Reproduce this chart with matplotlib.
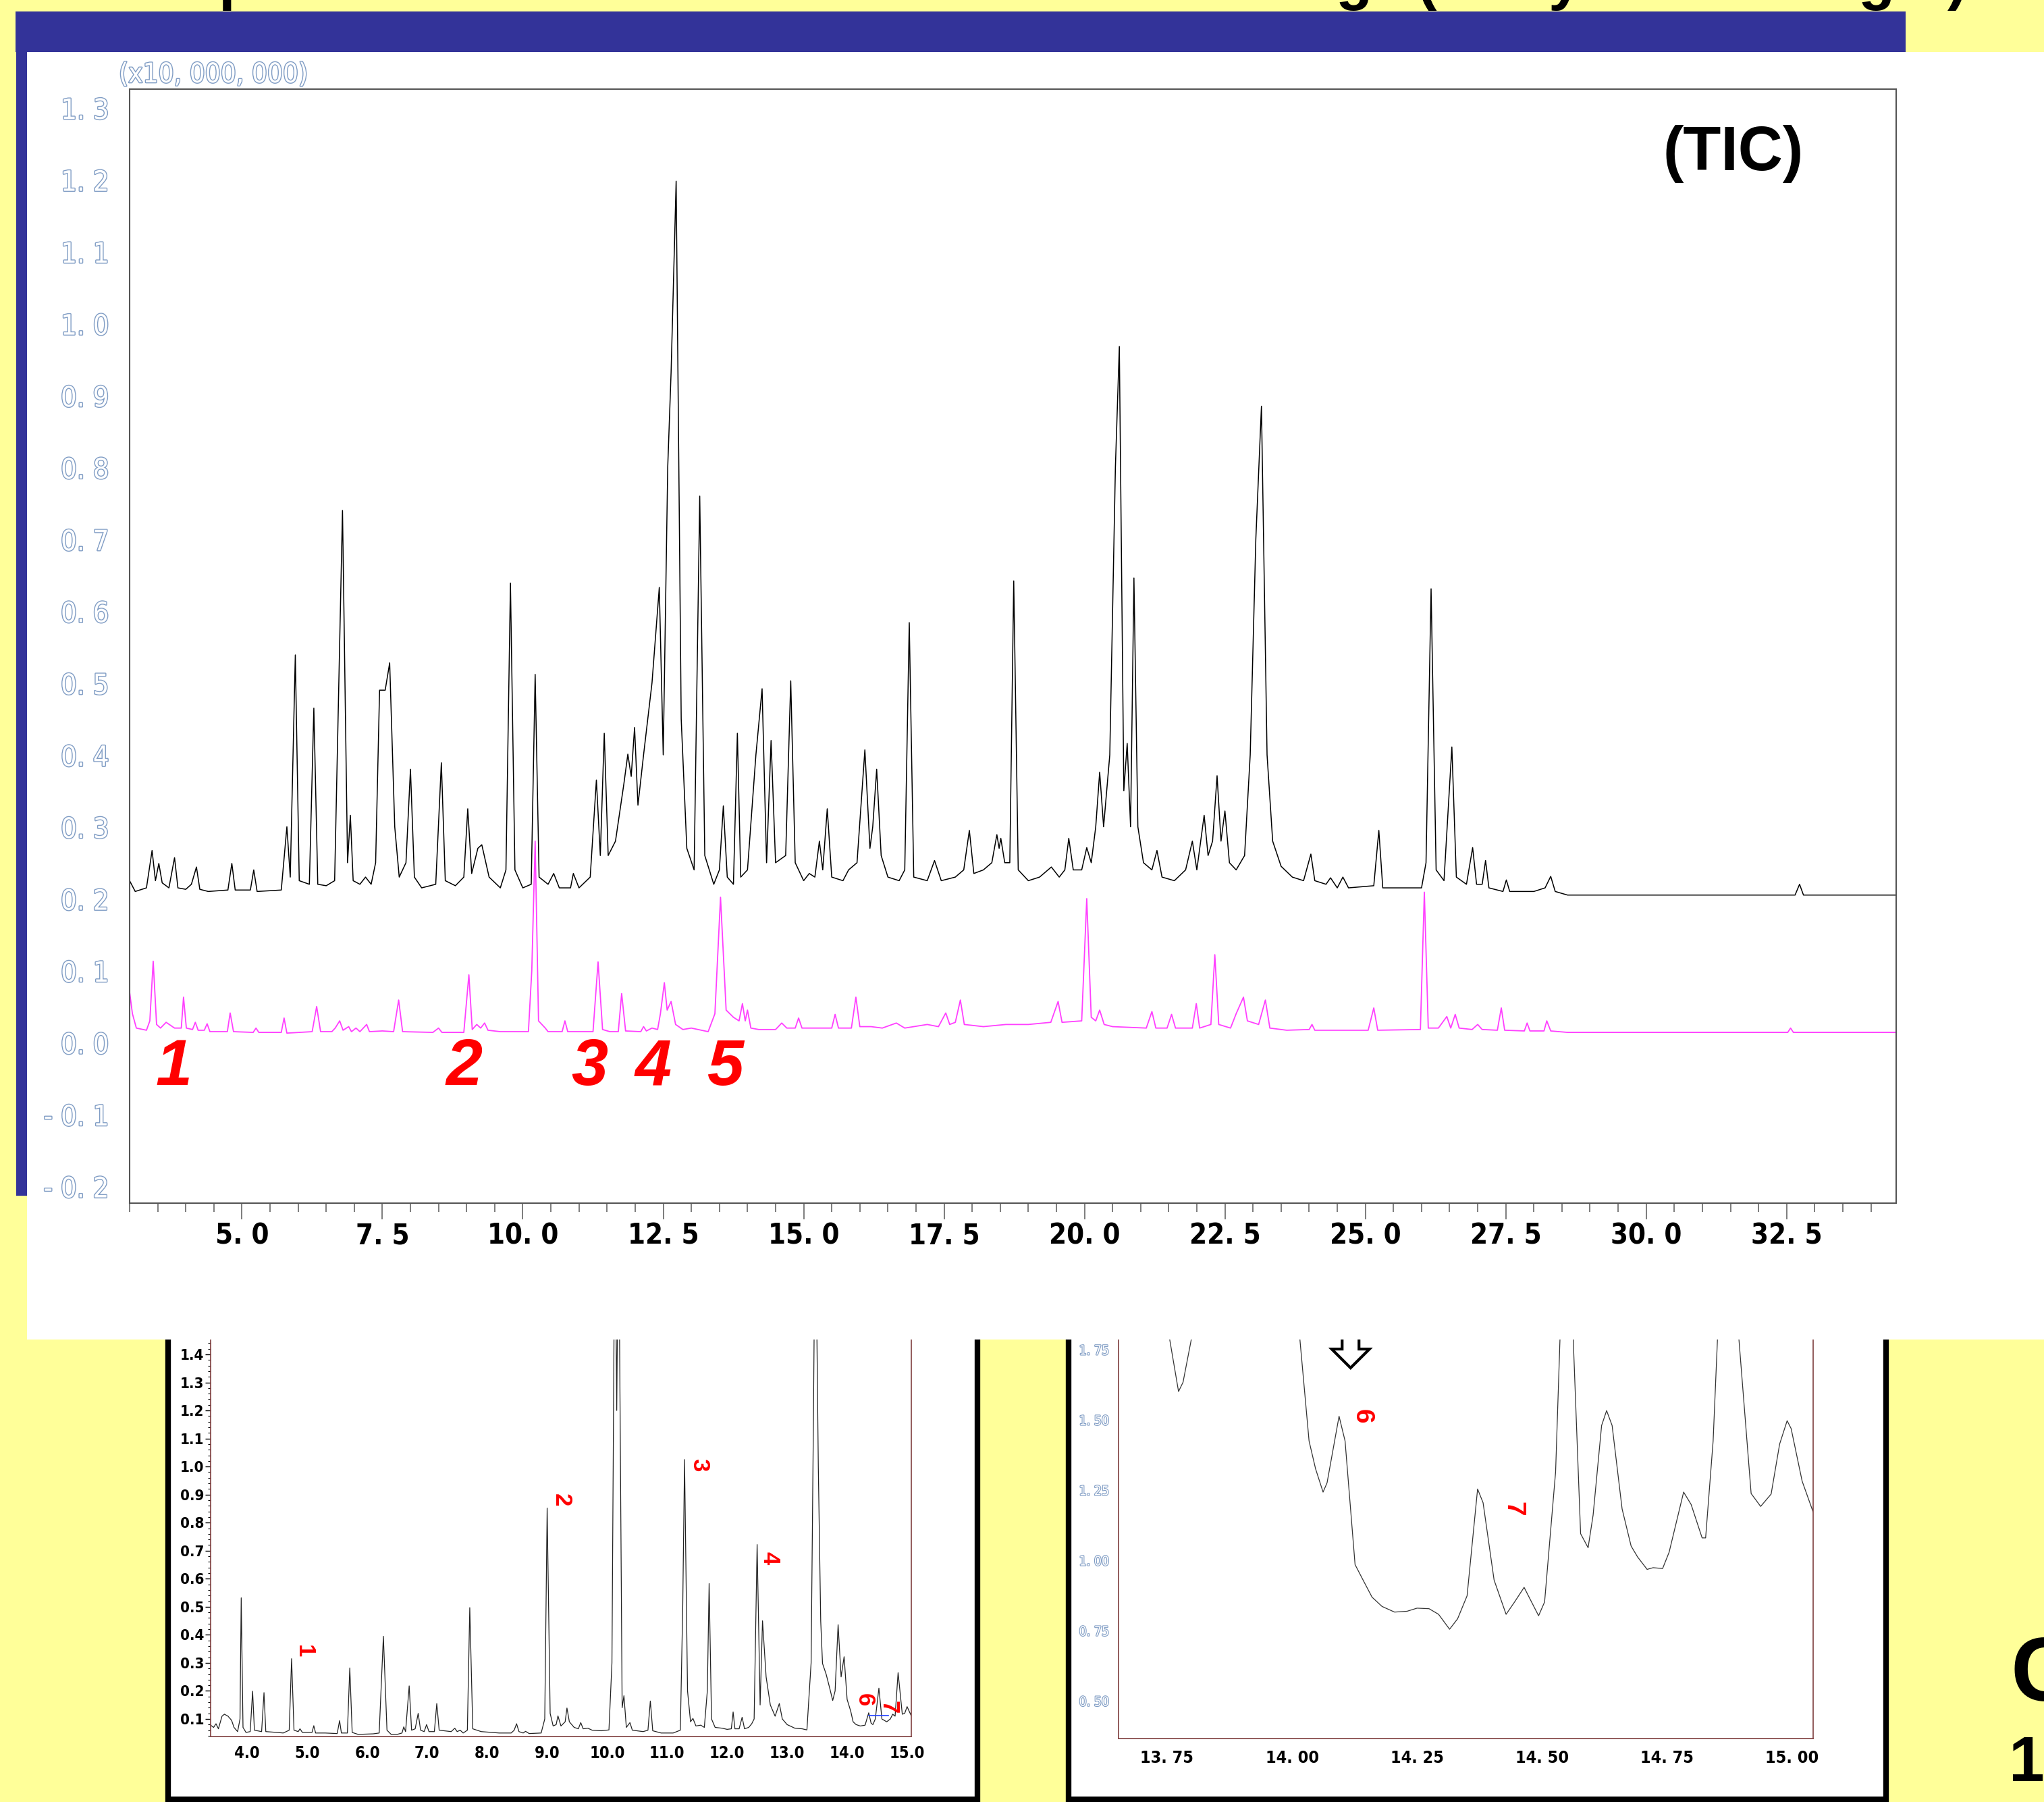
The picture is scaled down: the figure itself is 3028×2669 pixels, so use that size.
import matplotlib
matplotlib.use('Agg')
import matplotlib.pyplot as plt
import matplotlib.patheffects as pe
from matplotlib import font_manager as fm
from matplotlib.patches import Rectangle, FancyArrow
from matplotlib.ticker import FixedLocator

# ---- main chromatogram (TIC, black) ----
tic_x = [3.0, 3.1, 3.3, 3.4, 3.46, 3.52, 3.58, 3.7, 3.8, 3.86, 4.0, 4.1, 4.19, 4.25, 4.4, 4.75, 4.82, 4.88,
         5.15, 5.21, 5.27, 5.7, 5.8, 5.86, 5.95, 6.02, 6.2, 6.28, 6.35, 6.5, 6.65, 6.79, 6.88, 6.93, 6.98,
         7.1, 7.2, 7.3, 7.38, 7.45, 7.55, 7.63, 7.72, 7.8, 7.92, 8.0, 8.07, 8.2, 8.45, 8.55, 8.62, 8.8, 8.95,
         9.02, 9.09, 9.2, 9.27, 9.4, 9.6, 9.7, 9.78, 9.86, 10.0, 10.15, 10.22, 10.29, 10.45, 10.55, 10.65,
         10.85, 10.9, 11.0, 11.2, 11.31, 11.38, 11.45, 11.52, 11.65, 11.8, 11.87, 11.93, 11.99, 12.05, 12.15,
         12.3, 12.43, 12.5, 12.58, 12.64, 12.73, 12.82, 12.92, 13.05, 13.15, 13.24, 13.4, 13.5, 13.57, 13.64,
         13.75, 13.82, 13.88, 14.0, 14.15, 14.26, 14.34, 14.42, 14.5, 14.68, 14.77, 14.85, 15.0, 15.1, 15.2,
         15.28, 15.34, 15.42, 15.5, 15.7, 15.8, 15.95, 16.09, 16.18, 16.23, 16.3, 16.38, 16.5, 16.7, 16.8,
         16.88, 16.96, 17.2, 17.33, 17.45, 17.7, 17.85, 17.95, 18.03, 18.2, 18.35, 18.44, 18.48, 18.51, 18.58,
         18.67, 18.74, 18.82, 19.0, 19.2, 19.41, 19.55, 19.65, 19.72, 19.8, 19.95, 20.04, 20.12, 20.2, 20.27,
         20.34, 20.45, 20.55, 20.62, 20.7, 20.76, 20.82, 20.88, 20.95, 21.05, 21.2, 21.29, 21.38, 21.6, 21.8,
         21.92, 22.0, 22.13, 22.2, 22.28, 22.36, 22.43, 22.5, 22.58, 22.7, 22.85, 22.95, 23.05, 23.15, 23.25,
         23.35, 23.5, 23.7, 23.9, 24.03, 24.1, 24.3, 24.38, 24.5, 24.6, 24.7, 25.15, 25.24, 25.31, 25.6, 26.0,
         26.08, 26.17, 26.26, 26.4, 26.54, 26.62, 26.8, 26.91, 26.98, 27.08, 27.14, 27.2, 27.45, 27.51, 27.57,
         28.0, 28.2, 28.3, 28.38, 28.6, 32.65, 32.73, 32.8, 34.5]
tic_y = [0.225, 0.21, 0.215, 0.267, 0.225, 0.249, 0.222, 0.215, 0.257, 0.215, 0.213, 0.22, 0.244, 0.213, 0.21,
         0.212, 0.249, 0.212, 0.212, 0.24, 0.21, 0.212, 0.30, 0.23, 0.539, 0.225, 0.22, 0.465, 0.22, 0.218, 0.225,
         0.74, 0.25, 0.316, 0.225, 0.22, 0.23, 0.22, 0.25, 0.49, 0.49, 0.528, 0.30, 0.23, 0.25, 0.38, 0.23, 0.215,
         0.22, 0.389, 0.225, 0.218, 0.23, 0.325, 0.235, 0.27, 0.275, 0.23, 0.215, 0.24, 0.639, 0.24, 0.215, 0.22,
         0.512, 0.23, 0.22, 0.235, 0.215, 0.215, 0.235, 0.215, 0.23, 0.365, 0.26, 0.43, 0.26, 0.28, 0.36, 0.401,
         0.37, 0.438, 0.33, 0.40, 0.50, 0.633, 0.40, 0.80, 0.932, 1.198, 0.45, 0.27, 0.24, 0.76, 0.26, 0.22, 0.24,
         0.329, 0.23, 0.22, 0.43, 0.23, 0.24, 0.40, 0.492, 0.25, 0.42, 0.25, 0.26, 0.503, 0.25, 0.225, 0.235, 0.23,
         0.28, 0.24, 0.325, 0.23, 0.225, 0.24, 0.25, 0.407, 0.27, 0.30, 0.38, 0.26, 0.23, 0.225, 0.24, 0.584, 0.23,
         0.225, 0.253, 0.225, 0.23, 0.24, 0.295, 0.235, 0.24, 0.25, 0.289, 0.27, 0.284, 0.25, 0.25, 0.642, 0.24,
         0.225, 0.23, 0.244, 0.23, 0.24, 0.284, 0.24, 0.24, 0.271, 0.25, 0.30, 0.376, 0.30, 0.40, 0.80, 0.968, 0.35,
         0.416, 0.30, 0.646, 0.30, 0.25, 0.24, 0.267, 0.23, 0.225, 0.24, 0.28, 0.24, 0.316, 0.26, 0.28, 0.371, 0.28,
         0.322, 0.25, 0.24, 0.26, 0.40, 0.70, 0.885, 0.40, 0.28, 0.245, 0.23, 0.225, 0.262, 0.225, 0.22, 0.229,
         0.215, 0.23, 0.215, 0.218, 0.295, 0.215, 0.215, 0.215, 0.25, 0.631, 0.24, 0.225, 0.411, 0.23, 0.22, 0.271,
         0.22, 0.22, 0.253, 0.215, 0.21, 0.226, 0.21, 0.21, 0.215, 0.231, 0.21, 0.205, 0.205, 0.22, 0.205, 0.205]

# ---- second trace (magenta) ----
mag_x = [3.0, 3.05, 3.12, 3.3, 3.36, 3.42, 3.48, 3.55, 3.65, 3.8, 3.92, 3.96, 4.01, 4.12, 4.17, 4.22, 4.33, 4.38,
         4.43, 4.74, 4.79, 4.85, 5.2, 5.25, 5.3, 5.7, 5.75, 5.8, 6.25, 6.33, 6.4, 6.6, 6.66, 6.74, 6.8, 6.9, 6.95,
         7.03, 7.1, 7.22, 7.27, 7.5, 7.7, 7.79, 7.86, 8.4, 8.5, 8.56, 8.95, 9.04, 9.1, 9.18, 9.25, 9.32, 9.38,
         9.6, 10.1, 10.16, 10.22, 10.28, 10.4, 10.45, 10.7, 10.75, 10.8, 11.25, 11.34, 11.42, 11.55, 11.7, 11.76,
         11.83, 12.1, 12.15, 12.2, 12.3, 12.4, 12.45, 12.52, 12.57, 12.64, 12.72, 12.85, 13.0, 13.3, 13.42, 13.52,
         13.62, 13.75, 13.85, 13.91, 13.96, 14.0, 14.06, 14.2, 14.5, 14.61, 14.7, 14.85, 14.91, 14.97, 15.3, 15.5,
         15.56, 15.62, 15.85, 15.93, 16.0, 16.2, 16.4, 16.65, 16.8, 17.2, 17.4, 17.53, 17.6, 17.7, 17.79, 17.86,
         18.2, 18.6, 19.0, 19.4, 19.53, 19.6, 19.95, 20.04, 20.12, 20.2, 20.27, 20.35, 20.5, 21.1, 21.2, 21.27,
         21.47, 21.55, 21.62, 21.92, 21.99, 22.05, 22.25, 22.32, 22.39, 22.6, 22.7, 22.83, 22.9, 23.1, 23.22, 23.3,
         23.6, 24.0, 24.05, 24.1, 25.05, 25.15, 25.22, 25.98, 26.05, 26.12, 26.3, 26.45, 26.52, 26.6, 26.67, 26.9,
         27.0, 27.08, 27.35, 27.42, 27.48, 27.83, 27.88, 27.93, 28.18, 28.23, 28.3, 28.6, 32.52, 32.57, 32.62, 34.5]
mag_y = [0.07, 0.04, 0.02, 0.017, 0.03, 0.113, 0.025, 0.02, 0.028, 0.02, 0.02, 0.063, 0.02, 0.018, 0.028, 0.017,
         0.017, 0.026, 0.015, 0.015, 0.041, 0.015, 0.014, 0.02, 0.014, 0.014, 0.034, 0.013, 0.015, 0.05, 0.015,
         0.015, 0.02, 0.03, 0.017, 0.022, 0.015, 0.02, 0.015, 0.025, 0.015, 0.016, 0.015, 0.059, 0.015, 0.014,
         0.02, 0.014, 0.014, 0.094, 0.018, 0.025, 0.02, 0.027, 0.017, 0.015, 0.015, 0.1, 0.28, 0.03, 0.02, 0.015,
         0.015, 0.03, 0.015, 0.015, 0.112, 0.018, 0.015, 0.015, 0.068, 0.016, 0.015, 0.022, 0.016, 0.02, 0.018,
         0.04, 0.083, 0.045, 0.057, 0.025, 0.018, 0.02, 0.015, 0.04, 0.202, 0.045, 0.035, 0.03, 0.054, 0.03, 0.045,
         0.02, 0.018, 0.018, 0.027, 0.02, 0.02, 0.034, 0.02, 0.02, 0.02, 0.039, 0.02, 0.02, 0.063, 0.022, 0.022,
         0.02, 0.027, 0.02, 0.025, 0.022, 0.041, 0.025, 0.028, 0.059, 0.025, 0.022, 0.025, 0.025, 0.028, 0.057,
         0.028, 0.03, 0.2, 0.035, 0.03, 0.045, 0.025, 0.022, 0.02, 0.043, 0.02, 0.02, 0.039, 0.02, 0.02, 0.054,
         0.02, 0.025, 0.122, 0.025, 0.02, 0.04, 0.063, 0.03, 0.025, 0.059, 0.02, 0.017, 0.018, 0.025, 0.017, 0.017,
         0.048, 0.017, 0.018, 0.209, 0.02, 0.02, 0.036, 0.02, 0.039, 0.02, 0.018, 0.025, 0.018, 0.017, 0.048,
         0.017, 0.016, 0.027, 0.016, 0.016, 0.03, 0.016, 0.014, 0.014, 0.02, 0.014, 0.014]

main_yticks = [1.3, 1.2, 1.1, 1.0, 0.9, 0.8, 0.7, 0.6, 0.5, 0.4, 0.3, 0.2, 0.1, 0.0, -0.1, -0.2]
main_ylabels = ['1. 3', '1. 2', '1. 1', '1. 0', '0. 9', '0. 8', '0. 7', '0. 6', '0. 5', '0. 4', '0. 3',
                '0. 2', '0. 1', '0. 0', '- 0. 1', '- 0. 2']
main_xticks = [5.0, 7.5, 10.0, 12.5, 15.0, 17.5, 20.0, 22.5, 25.0, 27.5, 30.0, 32.5]
main_xlabels = ['5. 0', '7. 5', '10. 0', '12. 5', '15. 0', '17. 5', '20. 0', '22. 5', '25. 0', '27. 5',
                '30. 0', '32. 5']
main_peak_names = ['1', '2', '3', '4', '5']
main_peak_x = [3.79, 8.96, 11.19, 12.32, 13.60]

# ---- lower-left inset trace ----
in1_x = [3.39, 3.44, 3.48, 3.52, 3.58, 3.62, 3.68, 3.74, 3.78, 3.84, 3.88, 3.90, 3.93, 3.98, 4.05, 4.09, 4.12,
         4.24, 4.28, 4.31, 4.5, 4.6, 4.70, 4.74, 4.78, 4.85, 4.88, 4.92, 5.08, 5.11, 5.14, 5.3, 5.5, 5.54, 5.57,
         5.67, 5.71, 5.75, 5.85, 6.1, 6.2, 6.27, 6.33, 6.4, 6.5, 6.58, 6.61, 6.64, 6.70, 6.74, 6.8, 6.85, 6.89,
         6.95, 6.99, 7.03, 7.12, 7.16, 7.2, 7.4, 7.46, 7.5, 7.55, 7.6, 7.67, 7.71, 7.76, 7.9, 8.2, 8.4, 8.45,
         8.49, 8.53, 8.6, 8.64, 8.7, 8.9, 8.96, 9.0, 9.05, 9.1, 9.15, 9.18, 9.23, 9.3, 9.33, 9.37, 9.45, 9.52,
         9.56, 9.6, 9.68, 9.75, 9.9, 10.03, 10.08, 10.13, 10.16, 10.19, 10.25, 10.28, 10.32, 10.38, 10.42, 10.6,
         10.68, 10.72, 10.76, 10.9, 11.1, 11.22, 11.26, 11.29, 11.34, 11.39, 11.43, 11.48, 11.56, 11.62, 11.67,
         11.70, 11.74, 11.8, 11.92, 12.0, 12.07, 12.10, 12.13, 12.2, 12.25, 12.29, 12.36, 12.41, 12.45, 12.50,
         12.55, 12.59, 12.65, 12.72, 12.8, 12.87, 12.92, 13.0, 13.13, 13.25, 13.33, 13.4, 13.44, 13.47, 13.52,
         13.56, 13.59, 13.65, 13.71, 13.76, 13.8, 13.85, 13.9, 13.95, 14.0, 14.06, 14.1, 14.15, 14.22, 14.3,
         14.36, 14.4, 14.43, 14.47, 14.53, 14.58, 14.66, 14.72, 14.76, 14.8, 14.85, 14.92, 14.96, 15.0, 15.07]
in1_y = [0.078, 0.07, 0.083, 0.065, 0.11, 0.117, 0.11, 0.095, 0.07, 0.055, 0.1, 0.532, 0.07, 0.052, 0.055, 0.199,
         0.06, 0.055, 0.194, 0.055, 0.052, 0.05, 0.06, 0.315, 0.06, 0.055, 0.065, 0.052, 0.052, 0.076, 0.05, 0.05,
         0.048, 0.094, 0.05, 0.05, 0.282, 0.052, 0.045, 0.047, 0.05, 0.395, 0.06, 0.045, 0.045, 0.05, 0.072, 0.055,
         0.218, 0.06, 0.065, 0.12, 0.06, 0.055, 0.08, 0.055, 0.055, 0.155, 0.06, 0.055, 0.067, 0.055, 0.06, 0.05,
         0.06, 0.497, 0.065, 0.055, 0.05, 0.05, 0.06, 0.083, 0.055, 0.05, 0.056, 0.048, 0.05, 0.1, 0.852, 0.12,
         0.075, 0.08, 0.111, 0.075, 0.09, 0.139, 0.09, 0.07, 0.065, 0.087, 0.065, 0.067, 0.06, 0.058, 0.061, 0.3,
         2.0, 1.2, 2.0, 0.14, 0.183, 0.07, 0.087, 0.06, 0.055, 0.06, 0.164, 0.058, 0.05, 0.05, 0.06, 0.5, 1.025,
         0.2, 0.09, 0.102, 0.075, 0.078, 0.07, 0.2, 0.583, 0.1, 0.07, 0.067, 0.063, 0.065, 0.125, 0.065, 0.065,
         0.106, 0.065, 0.07, 0.083, 0.1, 0.722, 0.15, 0.45, 0.25, 0.15, 0.11, 0.155, 0.1, 0.08, 0.067, 0.065,
         0.061, 0.3, 1.2, 2.0, 1.0, 0.45, 0.298, 0.26, 0.21, 0.166, 0.2, 0.436, 0.25, 0.322, 0.17, 0.128, 0.09,
         0.08, 0.075, 0.078, 0.122, 0.085, 0.08, 0.1, 0.21, 0.10, 0.09, 0.1, 0.117, 0.11, 0.265, 0.117, 0.12,
         0.144, 0.111]
in1_yticks = [0.1, 0.2, 0.3, 0.4, 0.5, 0.6, 0.7, 0.8, 0.9, 1.0, 1.1, 1.2, 1.3, 1.4]
in1_ylabels = ['0.1', '0.2', '0.3', '0.4', '0.5', '0.6', '0.7', '0.8', '0.9', '1.0', '1.1', '1.2', '1.3', '1.4']
in1_xticks = [4.0, 5.0, 6.0, 7.0, 8.0, 9.0, 10.0, 11.0, 12.0, 13.0, 14.0, 15.0]
in1_xlabels = ['4.0', '5.0', '6.0', '7.0', '8.0', '9.0', '10.0', '11.0', '12.0', '13.0', '14.0', '15.0']
in1_marks = ['1', '2', '3', '4', '6', '7']
in1_mark_x = [4.95, 9.23, 11.53, 12.71, 14.29, 14.69]
in1_mark_y = [0.342, 0.882, 1.005, 0.675, 0.169, 0.142]

# ---- lower-right inset trace (zoom 13.7-15.0 min) ----
in2_x = [13.653, 13.70, 13.754, 13.773, 13.782, 13.80, 13.83, 13.95, 14.015, 14.034, 14.047, 14.062, 14.07,
         14.094, 14.106, 14.126, 14.142, 14.16, 14.18, 14.205, 14.23, 14.25, 14.274, 14.293, 14.315, 14.331,
         14.35, 14.371, 14.382, 14.404, 14.428, 14.445, 14.464, 14.474, 14.493, 14.505, 14.527, 14.536, 14.55,
         14.562, 14.577, 14.592, 14.602, 14.619, 14.629, 14.64, 14.66, 14.678, 14.691, 14.71, 14.722, 14.741,
         14.754, 14.783, 14.798, 14.82, 14.827, 14.842, 14.851, 14.87, 14.893, 14.918, 14.937, 14.958, 14.975,
         14.99, 14.998, 15.02, 15.042]
in2_y = [2.3, 2.3, 1.80, 1.601, 1.634, 1.80, 2.3, 2.5, 1.80, 1.425, 1.326, 1.243, 1.276, 1.513, 1.425, 0.985,
         0.93, 0.869, 0.836, 0.816, 0.819, 0.83, 0.828, 0.808, 0.755, 0.792, 0.874, 1.254, 1.205, 0.93, 0.808,
         0.852, 0.904, 0.869, 0.803, 0.852, 1.315, 1.80, 2.3, 1.80, 1.095, 1.045, 1.161, 1.48, 1.533, 1.48, 1.183,
         1.051, 1.012, 0.968, 0.974, 0.971, 1.029, 1.243, 1.199, 1.08, 1.08, 1.425, 1.80, 2.3, 1.80, 1.238, 1.192,
         1.236, 1.414, 1.497, 1.469, 1.282, 1.172]
in2_yticks = [0.50, 0.75, 1.00, 1.25, 1.50, 1.75]
in2_ylabels = ['0. 50', '0. 75', '1. 00', '1. 25', '1. 50', '1. 75']
in2_xticks = [13.75, 14.00, 14.25, 14.50, 14.75, 15.00]
in2_xlabels = ['13. 75', '14. 00', '14. 25', '14. 50', '14. 75', '15. 00']
in2_marks = ['6', '7']
in2_mark_x = [14.116, 14.417]
in2_mark_y = [1.513, 1.183]

W, H = 3028, 2669
YELLOW = '#FFFF99'
NAVY = '#333399'


# find a narrow / condensed face for the instrument-style tick labels
def narrow_font(bold):
    want = 700 if bold else 400
    best = None
    for f in fm.fontManager.ttflist:
        nm = f.name.lower()
        narrow = ('narrow' in nm or 'condensed' in nm or str(f.stretch) in
                  ('condensed', 'semi-condensed', 'extra-condensed', 'ultra-condensed'))
        if not narrow or 'mono' in nm or f.style != 'normal':
            continue
        w = f.weight if isinstance(f.weight, int) else (700 if 'bold' in str(f.weight) else 400)
        score = abs(w - want) + (0 if 'sans' in nm else 50)
        if best is None or score < best[0]:
            best = (score, f.fname)
    return best[1] if best else None


def fprop(size, bold=False):
    path = narrow_font(bold)
    if path:
        return fm.FontProperties(fname=path, size=size)
    return fm.FontProperties(family='Liberation Sans', size=size * 0.82,
                             weight='bold' if bold else 'normal')


hollow = [pe.withStroke(linewidth=2.0, foreground='#7f9cc4')]

fig = plt.figure(figsize=(W / 100, H / 100), dpi=100, facecolor=YELLOW)


def fbox(l, t, r, b):
    return [l / W, 1 - b / H, (r - l) / W, (b - t) / H]


def frect(l, t, r, b, **kw):
    fig.add_artist(Rectangle((l / W, 1 - b / H), (r - l) / W, (b - t) / H,
                             transform=fig.transFigure, **kw))


# slide background pieces
frect(23, 17, 2823, 77, color=NAVY, lw=0, zorder=2.5)
frect(24, 77, 40, 1771, color=NAVY, lw=0, zorder=2.5)
frect(40, 77, 3028, 1984, color='white', lw=0, zorder=2)
frect(249, 1960, 1448, 2665, facecolor='white', edgecolor='black', lw=6, zorder=0.5)
frect(1583, 1960, 2794, 2665, facecolor='white', edgecolor='black', lw=6, zorder=0.5)

# slide title cut off by the top edge (only descenders show) and text cut at the right edge
for ch, px in [('p', 350), ('g', 2006), ('(', 2113), ('y', 2318), ('g', 2779), (')', 2900)]:
    fig.text(px / W, 1 + 3 / H, ch, ha='center', va='baseline', fontsize=64,
             fontweight='bold', family='Liberation Sans', color='black')
fig.text(2978 / W, 1 - 2519 / H, 'C', fontsize=96, fontweight='bold', family='Liberation Sans',
         va='baseline', ha='left')
fig.text(2976 / W, 1 - 2638 / H, '1', fontsize=68, fontweight='bold', family='Liberation Sans',
         va='baseline', ha='left')

# ---------------- main chart ----------------
ax = fig.add_axes(fbox(192, 132, 2809, 1782), zorder=3)
ax.plot(tic_x, tic_y, color='black', lw=1.1)
ax.plot(mag_x, mag_y, color='#FF40FF', lw=1.3)
ax.set_xlim(3.0, 34.45)
ax.set_ylim(-0.2235, 1.326)
for s in ax.spines.values():
    s.set_color('#555555')
    s.set_linewidth(1.5)
ax.set_yticks(main_yticks)
ax.set_yticklabels(main_ylabels, fontproperties=fprop(30), color='white')
for lbl in ax.get_yticklabels():
    lbl.set_path_effects(hollow)
ax.tick_params(axis='y', length=0, pad=22)
ax.set_xticks(main_xticks)
ax.set_xticklabels(main_xlabels, fontproperties=fprop(30, bold=True))
ax.xaxis.set_minor_locator(FixedLocator([3.0 + 0.5 * i for i in range(63)]))
ax.tick_params(axis='x', which='major', length=17, width=1.2, color='#666666', pad=3)
ax.tick_params(axis='x', which='minor', length=9, width=1.2, color='#666666')
ax.text(2568 / W, 1 - 228 / H, '(TIC)', transform=fig.transFigure, fontsize=66, fontweight='bold',
        family='Liberation Sans', ha='center', va='center')
fig.text(176 / W, 1 - 131 / H, '(x10, 000, 000)', fontproperties=fprop(29), color='white',
         path_effects=hollow, va='bottom', ha='left', zorder=4)
for name, px in zip(main_peak_names, main_peak_x):
    ax.text(px, -0.036, name, color='red', fontsize=70, fontweight='bold', fontstyle='italic',
            family='Liberation Sans', ha='center', va='center')

# ---------------- lower-left inset ----------------
a1 = fig.add_axes(fbox(312, 1984, 1350, 2572), zorder=1)
a1.plot(in1_x, in1_y, color='#222222', lw=0.9)
a1.plot([14.36, 14.69], [0.111, 0.111], color='#2040ff', lw=1.2)
a1.set_xlim(3.39, 15.07)
a1.set_ylim(0.0375, 1.453)
a1.spines['top'].set_visible(False)
for k in ['left', 'bottom', 'right']:
    a1.spines[k].set_color('#7f3f3f')
    a1.spines[k].set_linewidth(1.2)
a1.set_yticks(in1_yticks)
a1.set_yticklabels(in1_ylabels, fontproperties=fprop(16, bold=True))
a1.yaxis.set_minor_locator(FixedLocator([0.04 + 0.02 * i for i in range(71)]))
a1.tick_params(axis='y', which='major', length=6, width=1, pad=1)
a1.tick_params(axis='y', which='minor', length=3, width=0.8)
a1.set_xticks(in1_xticks)
a1.set_xticklabels(in1_xlabels, fontproperties=fprop(17, bold=True))
a1.tick_params(axis='x', length=0, pad=9)
for name, mx, my in zip(in1_marks, in1_mark_x, in1_mark_y):
    a1.text(mx, my, name, color='red', fontsize=25, fontweight='bold', family='Liberation Sans',
            rotation=-90, ha='center', va='center')

# ---------------- lower-right inset ----------------
a2 = fig.add_axes(fbox(1657, 1984, 2686, 2575), zorder=1)
a2.plot(in2_x, in2_y, color='#333333', lw=0.9)
a2.set_xlim(13.653, 15.042)
a2.set_ylim(0.366, 1.786)
a2.spines['top'].set_visible(False)
for k in ['left', 'bottom', 'right']:
    a2.spines[k].set_color('#7f3f3f')
    a2.spines[k].set_linewidth(1.2)
a2.set_yticks(in2_yticks)
a2.set_yticklabels(in2_ylabels, fontproperties=fprop(14), color='white')
for lbl in a2.get_yticklabels():
    lbl.set_path_effects([pe.withStroke(linewidth=1.6, foreground='#7f9cc4')])
a2.tick_params(axis='y', length=0, pad=10)
a2.set_xticks(in2_xticks)
a2.set_xticklabels(in2_xlabels, fontproperties=fprop(18, bold=True))
a2.tick_params(axis='x', length=0, pad=12)
for name, mx, my in zip(in2_marks, in2_mark_x, in2_mark_y):
    a2.text(mx, my, name, color='red', fontsize=28, fontweight='bold', family='Liberation Sans',
            rotation=-90, ha='left', va='center')
a2.add_patch(FancyArrow(14.117, 1.83, 0, -0.145, width=0.0337, head_width=0.0755, head_length=0.067,
                        length_includes_head=True, facecolor='white', edgecolor='black', lw=3))

fig.savefig('out.png', dpi=100, facecolor=YELLOW)
